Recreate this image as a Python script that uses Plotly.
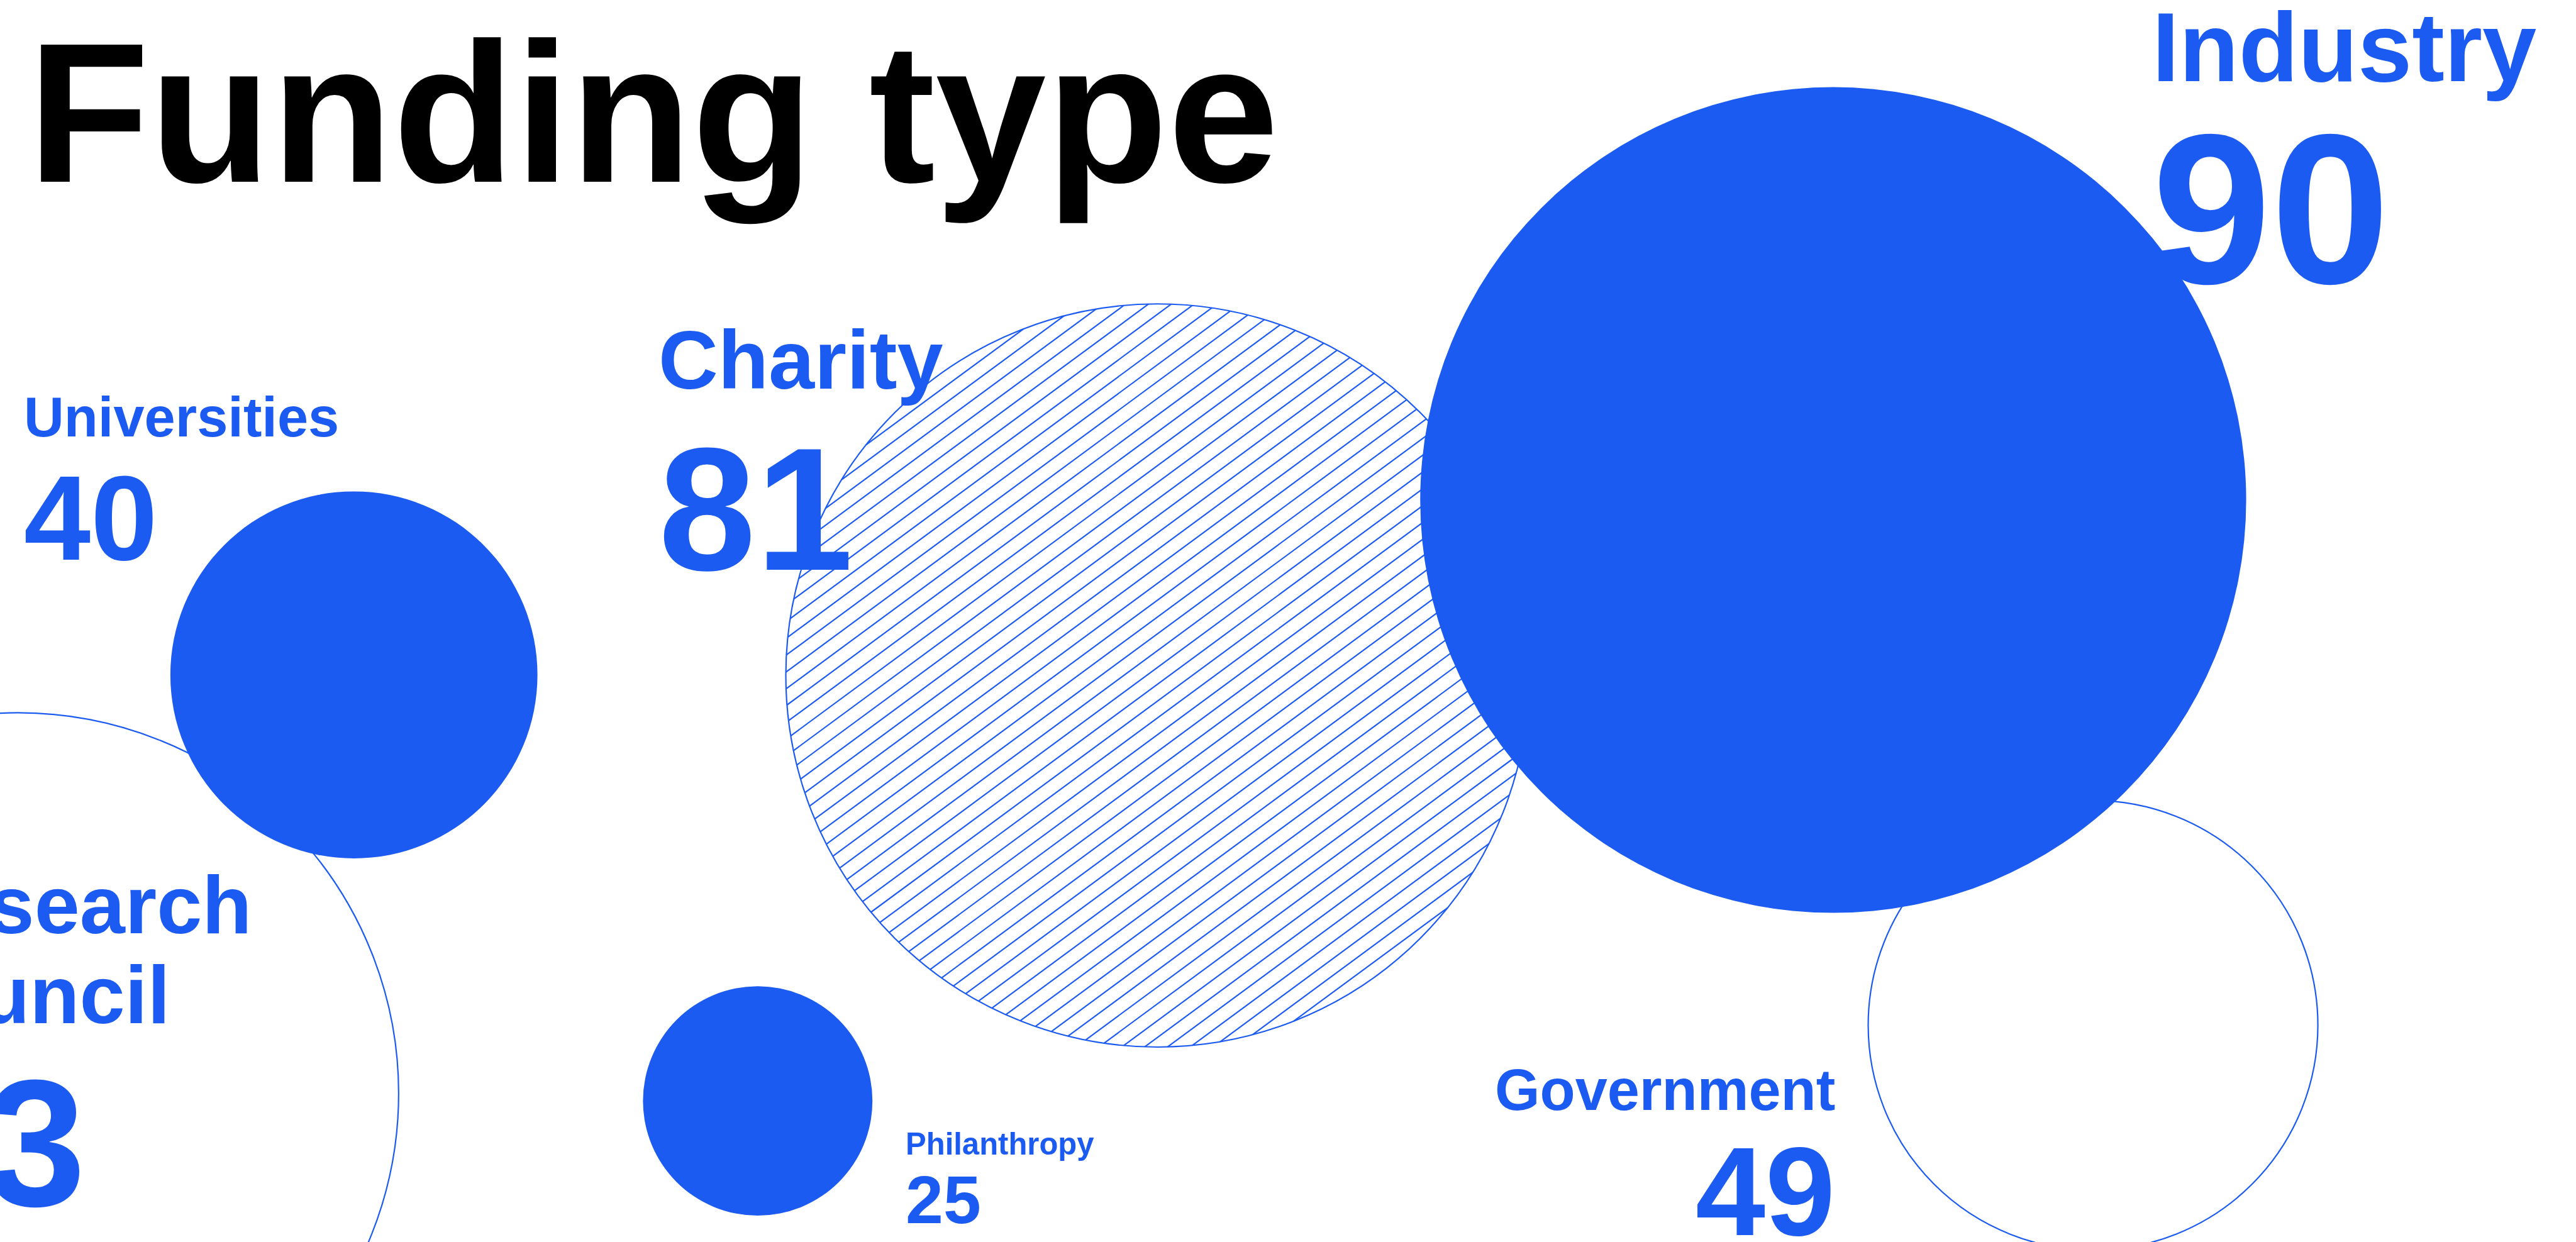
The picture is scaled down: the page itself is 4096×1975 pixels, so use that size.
import numpy as np
import plotly.graph_objects as go

# ---------------- data ----------------
categories = ["Industry", "Charity", "Research council", "Government", "Universities", "Philanthropy"]
values = [90, 81, 83, 49, 40, 25]
title_text = "Funding type"

# ---------------- layout / style (reference pixel units) ----------------
W_REF, H_REF = 4491, 2166
SCALE = 0.912
W_OUT, H_OUT = 4096, 1975
BLUE = "#1C5BF2"
FONT = "Liberation Sans"
RADIUS_PER_UNIT = 8.0

center_x = [3196, 2018, 31, 3649, 617, 1321]
center_y = [872, 1178, 1907, 1788, 1177, 1920]
fill_style = ["solid", "hatch", "outline", "outline", "solid", "solid"]
draw_order = [2, 4, 1, 3, 0, 5]

label_x = [3750, 1146, -203, 3202, 40, 1577]
label_anchor = ["left", "left", "left", "right", "left", "left"]
label_wrap = [False, False, True, False, False, False]
# reference cap heights expressed as nominal font sizes (cap = 0.716 em)
label_baseline = [145, 681, 1631, 1938, 763, 2014]
label_size = [177, 150, 148, 105, 101, 56]
label_line_gap = 156
number_baseline = [502, 1001, 2110, 2158, 981, 2136]
number_size = [388, 318, 328, 228, 218, 123]

title_x, title_baseline, title_size = 46, 325, 362

FONT_FACTOR = 0.96      # compromise between matching glyph widths and heights
CAP_REF = 0.716         # cap height of the reference font, em
CAP_OUT = 0.79          # rendered glyph height of the output font, em
ASC_EFF = 0.955         # box top to baseline, em

hatch_tan = 0.737
hatch_step = 29.33
hatch_phase_x, hatch_phase_y = 1900, 928.3
outline_w = 2.4 * SCALE
hatch_w = 2.4 * SCALE


def top_from_baseline(baseline, size_ref):
    s = size_ref * FONT_FACTOR
    bottom = baseline + (CAP_OUT * s - CAP_REF * size_ref) / 2.0
    return bottom - ASC_EFF * s - 1.0 / SCALE


fig = go.Figure()
shapes = []
annotations = []

for i in range(len(categories)):
    if fill_style[i] != "hatch":
        continue
    cx, cy = center_x[i], center_y[i]
    r = RADIUS_PER_UNIT * values[i]
    c0 = hatch_phase_y + hatch_tan * hatch_phase_x
    xs, ys = [], []
    span = r * np.sqrt(1 + hatch_tan ** 2)
    k_min = int(np.floor((cy + hatch_tan * cx - span - c0) / hatch_step)) - 1
    k_max = int(np.ceil((cy + hatch_tan * cx + span - c0) / hatch_step)) + 1
    for k in range(k_min, k_max + 1):
        c = c0 + k * hatch_step
        a = 1 + hatch_tan ** 2
        d = c - cy
        b = -2 * cx - 2 * hatch_tan * d
        cc = cx ** 2 + d ** 2 - r ** 2
        disc = b * b - 4 * a * cc
        if disc <= 0:
            continue
        x1 = (-b - np.sqrt(disc)) / (2 * a)
        x2 = (-b + np.sqrt(disc)) / (2 * a)
        xs += [x1, x2, None]
        ys += [c - hatch_tan * x1, c - hatch_tan * x2, None]
    fig.add_trace(go.Scatter(x=xs, y=ys, mode="lines",
                             line=dict(color=BLUE, width=hatch_w),
                             hoverinfo="skip", showlegend=False))

for i in draw_order:
    cx, cy = center_x[i], center_y[i]
    r = RADIUS_PER_UNIT * values[i]
    if fill_style[i] == "solid":
        fc, lw = BLUE, 0
    else:
        fc, lw = "rgba(0,0,0,0)", outline_w
    shapes.append(dict(type="circle", xref="x", yref="y", layer="above",
                       x0=cx - r, x1=cx + r, y0=cy - r, y1=cy + r,
                       fillcolor=fc, line=dict(color=BLUE, width=lw)))


def add_text(text, x_ref, anchor, baseline, size_ref, color):
    xshift, yshift = 0, 0
    x = x_ref
    if x_ref < 0:
        xshift = x_ref * SCALE
        x = 0
    y = top_from_baseline(baseline, size_ref)
    if y < 0:
        yshift = -y * SCALE
        y = 0
    annotations.append(dict(
        text=text, x=x, y=y,
        xref="x", yref="y", xanchor=anchor, yanchor="top",
        xshift=xshift, yshift=yshift, showarrow=False, align=anchor,
        font=dict(family=FONT, size=size_ref * FONT_FACTOR * SCALE, color=color, weight="bold"),
    ))


for i, cat in enumerate(categories):
    lines = cat.split(" ") if label_wrap[i] else [cat]
    for j, ln in enumerate(lines):
        add_text(ln, label_x[i], label_anchor[i], label_baseline[i] + j * label_line_gap,
                 label_size[i], BLUE)
    add_text(str(values[i]), label_x[i], label_anchor[i], number_baseline[i], number_size[i], BLUE)

add_text(title_text, title_x, "left", title_baseline, title_size, "#000000")

fig.update_layout(
    width=W_OUT, height=H_OUT, autosize=False,
    margin=dict(l=0, r=0, t=0, b=0, pad=0),
    paper_bgcolor="white", plot_bgcolor="white",
    xaxis=dict(range=[0, W_REF], visible=False, fixedrange=True),
    yaxis=dict(range=[H_REF, 0], visible=False, fixedrange=True),
    shapes=shapes, annotations=annotations, showlegend=False,
)

fig.write_html("out.html")
